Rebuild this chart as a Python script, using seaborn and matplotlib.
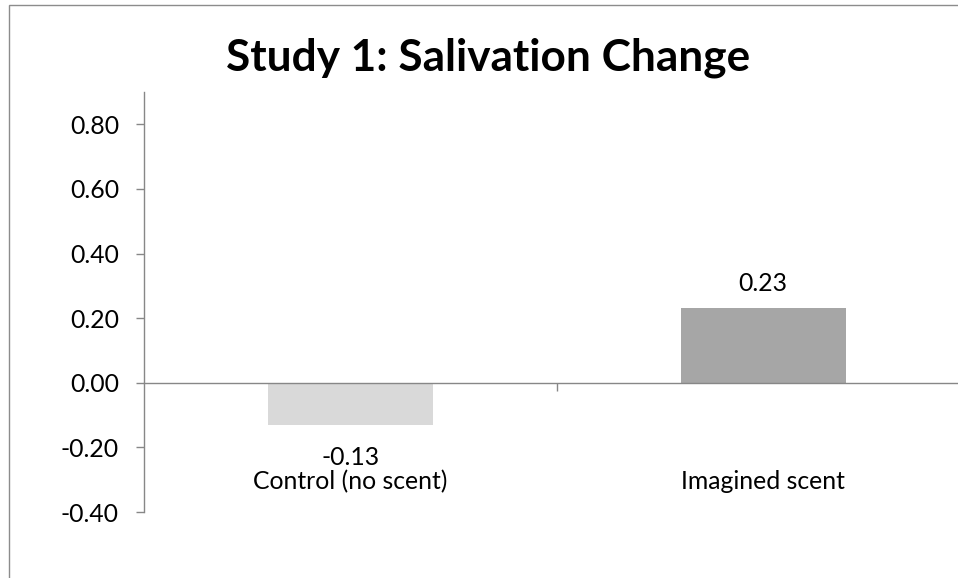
import matplotlib
matplotlib.use("Agg")
import matplotlib.pyplot as plt
import seaborn as sns
import pandas as pd
from matplotlib.patches import Rectangle

# Salivation change per condition
conditions = ["Control (no scent)", "Imagined scent"]
changes = [-0.13, 0.23]
bar_colors = ["#d9d9d9", "#a6a6a6"]
y_ticks = [-0.40, -0.20, 0.00, 0.20, 0.40, 0.60, 0.80]
title = "Study 1: Salivation Change"

df = pd.DataFrame({"condition": conditions, "change": changes})

sns.set_theme(style="white")
plt.rcParams["font.family"] = ["Lato", "DejaVu Sans"]

axis_gray = "#878787"
label_size = 17.8

fig = plt.figure(figsize=(9.58, 5.78), dpi=100)
fig.patch.set_facecolor("white")

# chart-area frame (runs off the right and bottom edges)
fig.patches.append(Rectangle((9 / 958, -0.1), 1.2, (578 - 5) / 578 + 0.1,
                             transform=fig.transFigure, fill=False,
                             edgecolor="#8c8c8c", linewidth=1.0, zorder=0))

ax = fig.add_axes([144 / 958, 66 / 578, 825.5 / 958, 420 / 578])
sns.barplot(data=df, x="condition", y="change", hue="condition",
            palette=bar_colors, width=0.4, legend=False, ax=ax,
            saturation=1, edgecolor="none")

ax.set_ylim(-0.40, 0.90)
ax.set_xlim(-0.5, 1.5)
ax.set_yticks(y_ticks)
ax.set_yticklabels([f"{v:.2f}" for v in y_ticks])
ax.set_xlabel("")
ax.set_ylabel("")

for side in ["top", "right"]:
    ax.spines[side].set_visible(False)
ax.spines["bottom"].set_position(("data", 0))
for side in ["left", "bottom"]:
    ax.spines[side].set_color(axis_gray)
    ax.spines[side].set_linewidth(1.0)

ax.tick_params(axis="y", which="major", direction="out", length=6,
               width=1.0, color=axis_gray, pad=12, labelsize=label_size,
               labelcolor="black", left=True)
ax.set_xticks([0, 1])
ax.set_xticklabels(conditions)
ax.set_xticks([0.5], minor=True)
ax.tick_params(axis="x", which="major", length=0, pad=63, labelsize=label_size,
               labelcolor="black")
ax.tick_params(axis="x", which="minor", direction="out", length=6,
               width=1.0, color=axis_gray, bottom=True)

for i, v in enumerate(changes):
    offset = 25 if v >= 0 else -33
    ax.annotate(f"{v:.2f}", xy=(i, v), xytext=(0, offset * 0.72),
                textcoords="offset points", ha="center", va="center",
                fontsize=label_size, color="black")

fig.text(488 / 958, 1 - 58 / 578, title, ha="center", va="center",
         fontsize=31.8, fontweight="bold", color="black")

fig.savefig("out.png", dpi=100, facecolor="white")
